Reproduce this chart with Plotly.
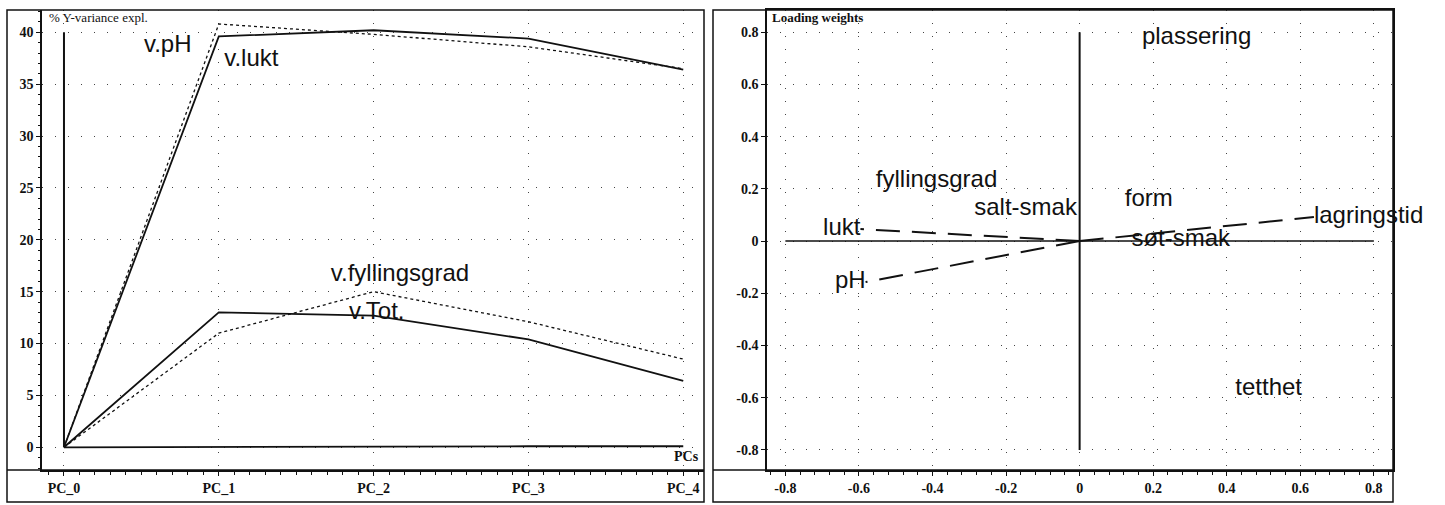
import plotly.graph_objects as go

W, H = 1445, 505

# ---------------- data: left panel (% Y-variance explained) ----------------
pcs = ["PC_0", "PC_1", "PC_2", "PC_3", "PC_4"]
v_pH = [0, 40.8, 39.8, 38.6, 36.5]
v_lukt = [0, 39.6, 40.2, 39.4, 36.4]
v_fyllingsgrad = [0, 11.0, 15.0, 12.1, 8.5]
v_tot = [0, 13.0, 12.7, 10.4, 6.4]
v_rest = [0, 0.05, 0.05, 0.1, 0.1]
y_ticks_left = [0, 5, 10, 15, 20, 25, 30, 35, 40]

series_labels = ["v.pH", "v.lukt", "v.fyllingsgrad", "v.Tot."]
series_label_x = [0.67, 1.21, 2.17, 2.02]
series_label_y = [38.7, 37.3, 16.6, 12.9]

# ---------------- data: right panel (loading weights) ----------------
lw_ticks = [-0.8, -0.6, -0.4, -0.2, 0, 0.2, 0.4, 0.6, 0.8]
var_names = ["lukt", "pH", "lagringstid", "plassering", "fyllingsgrad",
             "salt-smak", "form", "søt-smak", "tetthet"]
var_x = [-0.596, -0.582, 0.637, 0.318, -0.389, -0.147, 0.188, 0.275, 0.514]
var_y = [0.046, -0.157, 0.092, 0.778, 0.230, 0.123, 0.157, 0.004, -0.567]
vector_vars = ["lukt", "pH", "lagringstid"]

# ---------------- helpers ----------------
def px(x):
    return x / W

def py(y):
    return 1 - y / H

BLACK = "#111111"
LABEL_FONT = dict(family="Liberation Sans, Arial, sans-serif", size=24, color=BLACK)
TICK_FONT = dict(family="Liberation Serif, Times New Roman, serif", size=14,
                 color=BLACK, weight="bold")
GRID_DASH = "1px,12px"

fig = go.Figure()

pos = list(range(len(pcs)))

# vertical line at PC_0 from 0 to top tick
fig.add_trace(go.Scatter(x=[pos[0], pos[0]], y=[y_ticks_left[0], y_ticks_left[-1]],
                         mode="lines", line=dict(color=BLACK, width=2),
                         xaxis="x", yaxis="y", showlegend=False, hoverinfo="skip"))

for vals, dash, w in [(v_pH, "dot", 1.3), (v_lukt, "solid", 1.8),
                      (v_fyllingsgrad, "dot", 1.3), (v_tot, "solid", 1.8),
                      (v_rest, "solid", 1.8)]:
    fig.add_trace(go.Scatter(x=pos, y=vals, mode="lines",
                             line=dict(color=BLACK, width=w, dash=dash),
                             xaxis="x", yaxis="y", showlegend=False))

fig.add_trace(go.Scatter(x=series_label_x, y=series_label_y, mode="text",
                         text=series_labels, textfont=LABEL_FONT, cliponaxis=False,
                         xaxis="x", yaxis="y", showlegend=False, hoverinfo="skip"))

# right panel: cross lines through origin
fig.add_trace(go.Scatter(x=[lw_ticks[0], lw_ticks[-1]], y=[0, 0], mode="lines",
                         line=dict(color=BLACK, width=1.5),
                         xaxis="x2", yaxis="y2", showlegend=False, hoverinfo="skip"))
fig.add_trace(go.Scatter(x=[0, 0], y=[lw_ticks[-1], lw_ticks[0]], mode="lines",
                         line=dict(color=BLACK, width=2),
                         xaxis="x2", yaxis="y2", showlegend=False, hoverinfo="skip"))

# dashed vectors from origin
vx, vy = [], []
for n, x, y in zip(var_names, var_x, var_y):
    if n in vector_vars:
        vx += [0, x, None]
        vy += [0, y, None]
fig.add_trace(go.Scatter(x=vx, y=vy, mode="lines",
                         line=dict(color=BLACK, width=2, dash="24px,12px"),
                         xaxis="x2", yaxis="y2", showlegend=False))

tpos = []
for n, x in zip(var_names, var_x):
    if n in vector_vars:
        tpos.append("middle left" if x < 0 else "middle right")
    else:
        tpos.append("middle center")
fig.add_trace(go.Scatter(x=var_x, y=var_y, mode="text", text=var_names,
                         textposition=tpos, textfont=LABEL_FONT, cliponaxis=False,
                         xaxis="x2", yaxis="y2", showlegend=False, hoverinfo="skip"))

ydom = [py(470), py(10)]
common_axis = dict(showline=True, linecolor=BLACK, linewidth=1.5,
                   ticks="outside", tickcolor=BLACK, ticklen=4, tickwidth=1.2,
                   tickfont=TICK_FONT, gridcolor="#444444", gridwidth=1,
                   griddash=GRID_DASH, zeroline=False)

fig.update_layout(
    width=W, height=H, margin=dict(l=0, r=0, t=0, b=0),
    paper_bgcolor="white", plot_bgcolor="white",
    xaxis=dict(domain=[px(42), px(704)], range=[-0.142, 4.134],
               tickvals=pos, ticktext=pcs, anchor="y",
               minor=dict(dtick=0.1, ticks="outside", ticklen=3, tickcolor=BLACK,
                          showgrid=False),
               **common_axis),
    yaxis=dict(domain=ydom, range=[-2.19, 42.15], tickvals=y_ticks_left,
               anchor="x",
               minor=dict(dtick=1, ticks="outside", ticklen=2, tickcolor=BLACK,
                          showgrid=False),
               **common_axis),
    xaxis2=dict(domain=[px(767), px(1393)], range=[-0.85, 0.852],
                tickvals=lw_ticks, ticktext=[("%g" % t) for t in lw_ticks],
                anchor="y2", mirror=True,
                minor=dict(dtick=0.04, ticks="outside", ticklen=3, tickcolor=BLACK,
                           showgrid=False),
                **common_axis),
    yaxis2=dict(domain=ydom, range=[-0.877, 0.885], tickvals=lw_ticks,
                ticktext=[("%g" % t) for t in lw_ticks], anchor="x2", mirror=True,
                **common_axis),
)

shape_line = dict(color=BLACK, width=1.5)
fig.add_shape(type="rect", xref="paper", yref="paper", x0=px(7), x1=px(704),
              y0=py(502), y1=py(10), line=shape_line)
fig.add_shape(type="line", xref="paper", yref="paper", x0=px(7), x1=px(704),
              y0=py(470), y1=py(470), line=shape_line)
fig.add_shape(type="rect", xref="paper", yref="paper", x0=px(713), x1=px(1393),
              y0=py(502), y1=py(10), line=shape_line)
fig.add_shape(type="line", xref="paper", yref="paper", x0=px(713), x1=px(1393),
              y0=py(470), y1=py(470), line=shape_line)

fig.add_annotation(xref="paper", yref="paper", x=px(47), y=py(17),
                   text="% Y-variance expl.", showarrow=False, xanchor="left",
                   yanchor="middle",
                   font=dict(family="Liberation Serif, serif", size=13, color=BLACK))
fig.add_annotation(xref="paper", yref="paper", x=px(770), y=py(17),
                   text="<b>Loading weights</b>", showarrow=False, xanchor="left",
                   yanchor="middle",
                   font=dict(family="Liberation Serif, serif", size=13, color=BLACK))
fig.add_annotation(xref="paper", yref="paper", x=px(701), y=py(456),
                   text="<b>PCs</b>", showarrow=False, xanchor="right",
                   yanchor="middle",
                   font=dict(family="Liberation Serif, serif", size=14, color=BLACK))

fig.write_html("out.html")
